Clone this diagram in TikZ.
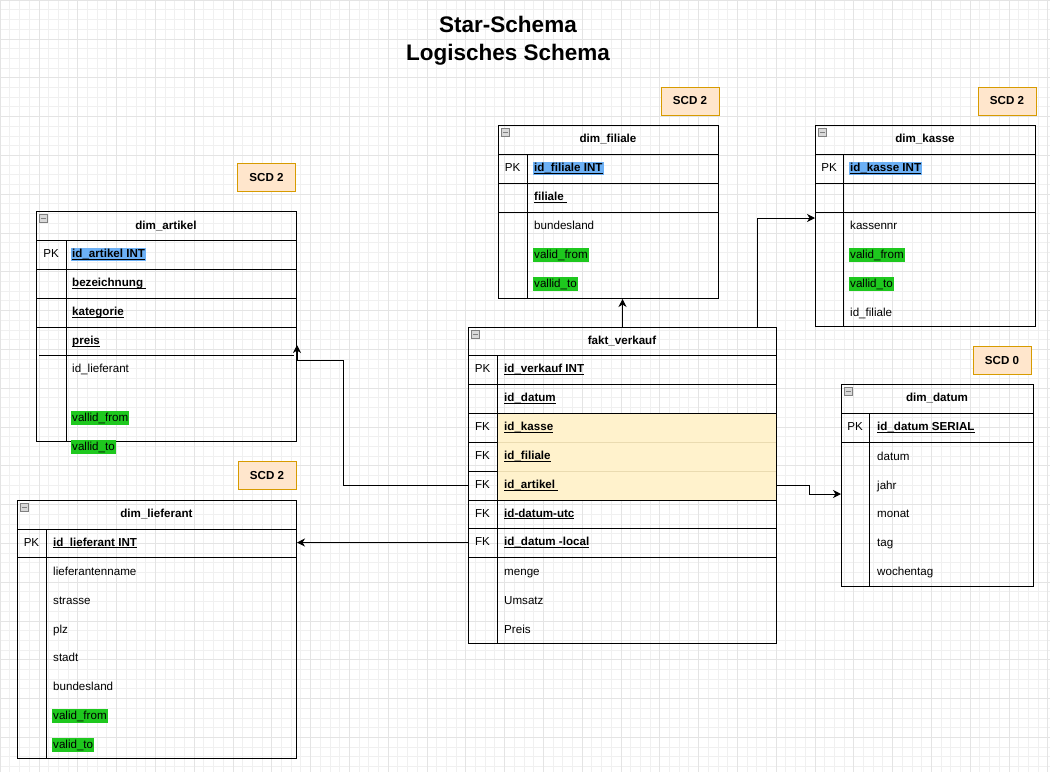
\documentclass[tikz,border=0pt]{standalone}
\usepackage{fontspec}
\setmainfont{Liberation Sans}
\usetikzlibrary{arrows.meta}

\definecolor{scdfill}{HTML}{FFE6CC}
\definecolor{scdline}{HTML}{D79B00}
\definecolor{pkblue}{HTML}{6CB0F5}
\definecolor{scdgreen}{HTML}{1EC81E}
\definecolor{fkyellow}{HTML}{FFF2CC}
\definecolor{fkyline}{HTML}{EADBB0}
\definecolor{gridminor}{HTML}{F0F0F0}
\definecolor{gridmajor}{HTML}{E4E4E4}

\newcommand{\ulf}[1]{\underline{\smash{#1}}}

\tikzset{
  tbl/.style={draw, line width=1pt, anchor=north west, inner sep=0pt},
  sep/.style={line width=1pt},
  fld/.style={anchor=west, inner sep=1pt, text height=8.6pt, text depth=2.6pt, font=\fontsize{11.6}{13}\selectfont},
  pkf/.style={fld, font=\fontsize{11.6}{13}\selectfont\bfseries},
  keyf/.style={inner sep=1pt, text height=8.6pt, text depth=2.6pt, font=\fontsize{11.6}{13}\selectfont},
  head/.style={inner sep=1pt, text height=8.6pt, text depth=2.6pt, font=\fontsize{11.6}{13}\selectfont\bfseries},
  scd/.style={draw=scdline, fill=scdfill, line width=1pt, minimum width=58pt, minimum height=28pt, inner sep=0pt, font=\fontsize{11.6}{13}\selectfont\bfseries},
  mini/.style={draw=gray, fill=gray!30, line width=0.5pt, minimum size=8pt, inner sep=0pt, anchor=north west,
    path picture={\draw[line width=1pt] ([xshift=1.5pt]path picture bounding box.west) -- ([xshift=-1.5pt]path picture bounding box.east);}},
  fk/.style={line width=1pt, -{Stealth[length=8pt,width=8pt,inset=2.5pt]}},
}

\begin{document}
\begin{tikzpicture}[x=1pt,y=1pt,yscale=-1]

\useasboundingbox (0,0) rectangle (1050,772);
\fill[white] (0,0) rectangle (1050,772);

% grid
\foreach \i in {0,...,108} \draw[gridminor, line width=0.6pt] (\i*9.7,0) -- (\i*9.7,772);
\foreach \j in {0,...,80} \draw[gridminor, line width=0.6pt] (0,\j*9.7) -- (1050,\j*9.7);
\foreach \i in {0,4,...,108} \draw[gridmajor, line width=0.6pt] (\i*9.7,0) -- (\i*9.7,772);
\foreach \j in {0,4,...,80} \draw[gridmajor, line width=0.6pt] (0,\j*9.7) -- (1050,\j*9.7);

% title
\node[anchor=base, inner sep=0pt, font=\fontsize{22.5}{27}\selectfont\bfseries] (title-a) at (508,32) {Star-Schema};
\node[anchor=base, inner sep=0pt, font=\fontsize{22.5}{27}\selectfont\bfseries] (title-b) at (508,60) {Logisches Schema};

% SCD labels
\node[scd] (scd-artikel) at (266.5,177.5) {SCD 2};
\node[scd] (scd-filiale) at (690,101) {SCD 2};
\node[scd] (scd-kasse) at (1007,101) {SCD 2};
\node[scd] (scd-lieferant) at (267,475.5) {SCD 2};
\node[scd] (scd-datum) at (1002,360.5) {SCD 0};

% dim_artikel
\node[tbl, minimum width=260pt, minimum height=230pt] (artikel) at (36,211) {};
\node[mini] (m-artikel) at (39,214) {};
\draw[sep] (36,240) -- (296,240);
\draw[sep] (36,269) -- (296,269);
\draw[sep] (36,298) -- (296,298);
\draw[sep] (36,327) -- (296,327);
\draw[sep] (39,355) -- (294,355);
\draw[sep] (66,240) -- (66,441);
\node[head] (h-artikel) at (166,226) {dim\_artikel};
\node[keyf] (a-pk) at (51,254.5) {PK};
\node[pkf, fill=pkblue] (a-id) at (71,254.5) {\ulf{id\_artikel INT}};
\node[pkf] (a-bez) at (71,283.5) {\ulf{bezeichnung\ }};
\node[pkf] (a-kat) at (71,312.5) {\ulf{kategorie}};
\node[pkf] (a-preis) at (71,341.5) {\ulf{preis}};
\node[fld] (a-lief) at (71,369) {id\_lieferant};
\node[fld, fill=scdgreen] (a-from) at (71,418) {vallid\_from};
\node[fld, fill=scdgreen] (a-to) at (71,447) {vallid\_to};

% dim_filiale
\node[tbl, minimum width=220pt, minimum height=173pt] (filiale) at (498,125) {};
\node[mini] (m-filiale) at (501,128) {};
\draw[sep] (498,154) -- (718,154);
\draw[sep] (498,183) -- (718,183);
\draw[sep] (498,212) -- (718,212);
\draw[sep] (527,154) -- (527,298);
\node[head] (h-filiale) at (608,139.5) {dim\_filiale};
\node[keyf] (f-pk) at (512.5,168.5) {PK};
\node[pkf, fill=pkblue] (f-id) at (533,168.5) {\ulf{id\_filiale INT}};
\node[pkf] (f-name) at (533,197.5) {\ulf{filiale\ }};
\node[fld] (f-land) at (533,226) {bundesland};
\node[fld, fill=scdgreen] (f-from) at (533,255) {valid\_from};
\node[fld, fill=scdgreen] (f-to) at (533,284) {vallid\_to};

% dim_kasse
\node[tbl, minimum width=220pt, minimum height=201pt] (kasse) at (815,125) {};
\node[mini] (m-kasse) at (818,128) {};
\draw[sep] (815,154) -- (1035,154);
\draw[sep] (815,183) -- (1035,183);
\draw[sep] (815,212) -- (1035,212);
\draw[sep] (843,154) -- (843,326);
\node[head] (h-kasse) at (925,139.5) {dim\_kasse};
\node[keyf] (k-pk) at (829,168.5) {PK};
\node[pkf, fill=pkblue] (k-id) at (849,168.5) {\ulf{id\_kasse INT}};
\node[fld] (k-nr) at (849,226) {kassennr};
\node[fld, fill=scdgreen] (k-from) at (849,255) {valid\_from};
\node[fld, fill=scdgreen] (k-to) at (849,284) {vallid\_to};
\node[fld] (k-fil) at (849,313) {id\_filiale};

% fakt_verkauf
\fill[fkyellow] (497,413) rectangle (776,500);
\node[tbl, minimum width=308pt, minimum height=316pt] (verkauf) at (468,327) {};
\node[mini] (m-verkauf) at (471,330) {};
\draw[sep] (468,355) -- (776,355);
\draw[sep] (468,384) -- (776,384);
\draw[sep] (468,413) -- (776,413);
\draw[sep] (468,442) -- (497,442);
\draw[sep] (468,471) -- (497,471);
\draw[fkyline, line width=0.8pt] (497,442) -- (776,442);
\draw[fkyline, line width=0.8pt] (497,471) -- (776,471);
\draw[sep] (468,500) -- (776,500);
\draw[sep] (468,528) -- (776,528);
\draw[sep] (468,557) -- (776,557);
\draw[sep] (497,355) -- (497,643);
\node[head] (h-verkauf) at (622,341.5) {fakt\_verkauf};
\node[keyf] (v-pk) at (482.5,369.5) {PK};
\node[keyf] (v-fk1) at (482.5,427.5) {FK};
\node[keyf] (v-fk2) at (482.5,456.5) {FK};
\node[keyf] (v-fk3) at (482.5,485.5) {FK};
\node[keyf] (v-fk4) at (482.5,514) {FK};
\node[keyf] (v-fk5) at (482.5,542.5) {FK};
\node[pkf] (v-id) at (503,369.5) {\ulf{id\_verkauf INT}};
\node[pkf] (v-datum) at (503,398.5) {\ulf{id\_datum}};
\node[pkf] (v-kasse) at (503,427.5) {\ulf{id\_kasse}};
\node[pkf] (v-filiale) at (503,456.5) {\ulf{id\_filiale}};
\node[pkf] (v-artikel) at (503,485.5) {\ulf{id\_artikel\ }};
\node[pkf] (v-utc) at (503,514) {\ulf{id-datum-utc}};
\node[pkf] (v-local) at (503,542.5) {\ulf{id\_datum -local}};
\node[fld] (v-menge) at (503,572) {menge};
\node[fld] (v-umsatz) at (503,601) {Umsatz};
\node[fld] (v-preis) at (503,630) {Preis};

% dim_lieferant
\node[tbl, minimum width=279pt, minimum height=258pt] (lieferant) at (17,500) {};
\node[mini] (m-lieferant) at (20,503) {};
\draw[sep] (17,529) -- (296,529);
\draw[sep] (17,557) -- (296,557);
\draw[sep] (46,529) -- (46,758);
\node[head] (h-lieferant) at (156.5,514.5) {dim\_lieferant};
\node[keyf] (l-pk) at (31.5,543) {PK};
\node[pkf] (l-id) at (52,543) {\ulf{id\_lieferant INT}};
\node[fld] (l-name) at (52,572) {lieferantenname};
\node[fld] (l-str) at (52,601) {strasse};
\node[fld] (l-plz) at (52,630) {plz};
\node[fld] (l-stadt) at (52,658) {stadt};
\node[fld] (l-land) at (52,687) {bundesland};
\node[fld, fill=scdgreen] (l-from) at (52,716) {valid\_from};
\node[fld, fill=scdgreen] (l-to) at (52,745) {valid\_to};

% dim_datum
\node[tbl, minimum width=192pt, minimum height=202pt] (datum) at (841,384) {};
\node[mini] (m-datum) at (844,387) {};
\draw[sep] (841,413) -- (1033,413);
\draw[sep] (841,442) -- (1033,442);
\draw[sep] (869,413) -- (869,586);
\node[head] (h-datum) at (937,398.5) {dim\_datum};
\node[keyf] (d-pk) at (855,427.5) {PK};
\node[pkf] (d-id) at (876,427.5) {\ulf{id\_datum SERIAL}};
\node[fld] (d-datum) at (876,457) {datum};
\node[fld] (d-jahr) at (876,486) {jahr};
\node[fld] (d-monat) at (876,514) {monat};
\node[fld] (d-tag) at (876,543) {tag};
\node[fld] (d-woche) at (876,572) {wochentag};

% connectors
\draw[fk] (verkauf.north) -- (verkauf.north |- filiale.south);
\draw[fk] ([xshift=-20pt]verkauf.north east) |- ([yshift=93pt]kasse.north west);
\draw[fk] (verkauf.west |- v-artikel) -- ++(-125,0) |- ([yshift=149pt]artikel.north east) -- ([yshift=134pt]artikel.north east);
\draw[fk] (verkauf.east |- v-artikel) -- ++(32,0) |- ([yshift=110pt]datum.north west);
\draw[fk] (verkauf.west |- v-local) -- (lieferant.east |- v-local);

\end{tikzpicture}
\end{document}
